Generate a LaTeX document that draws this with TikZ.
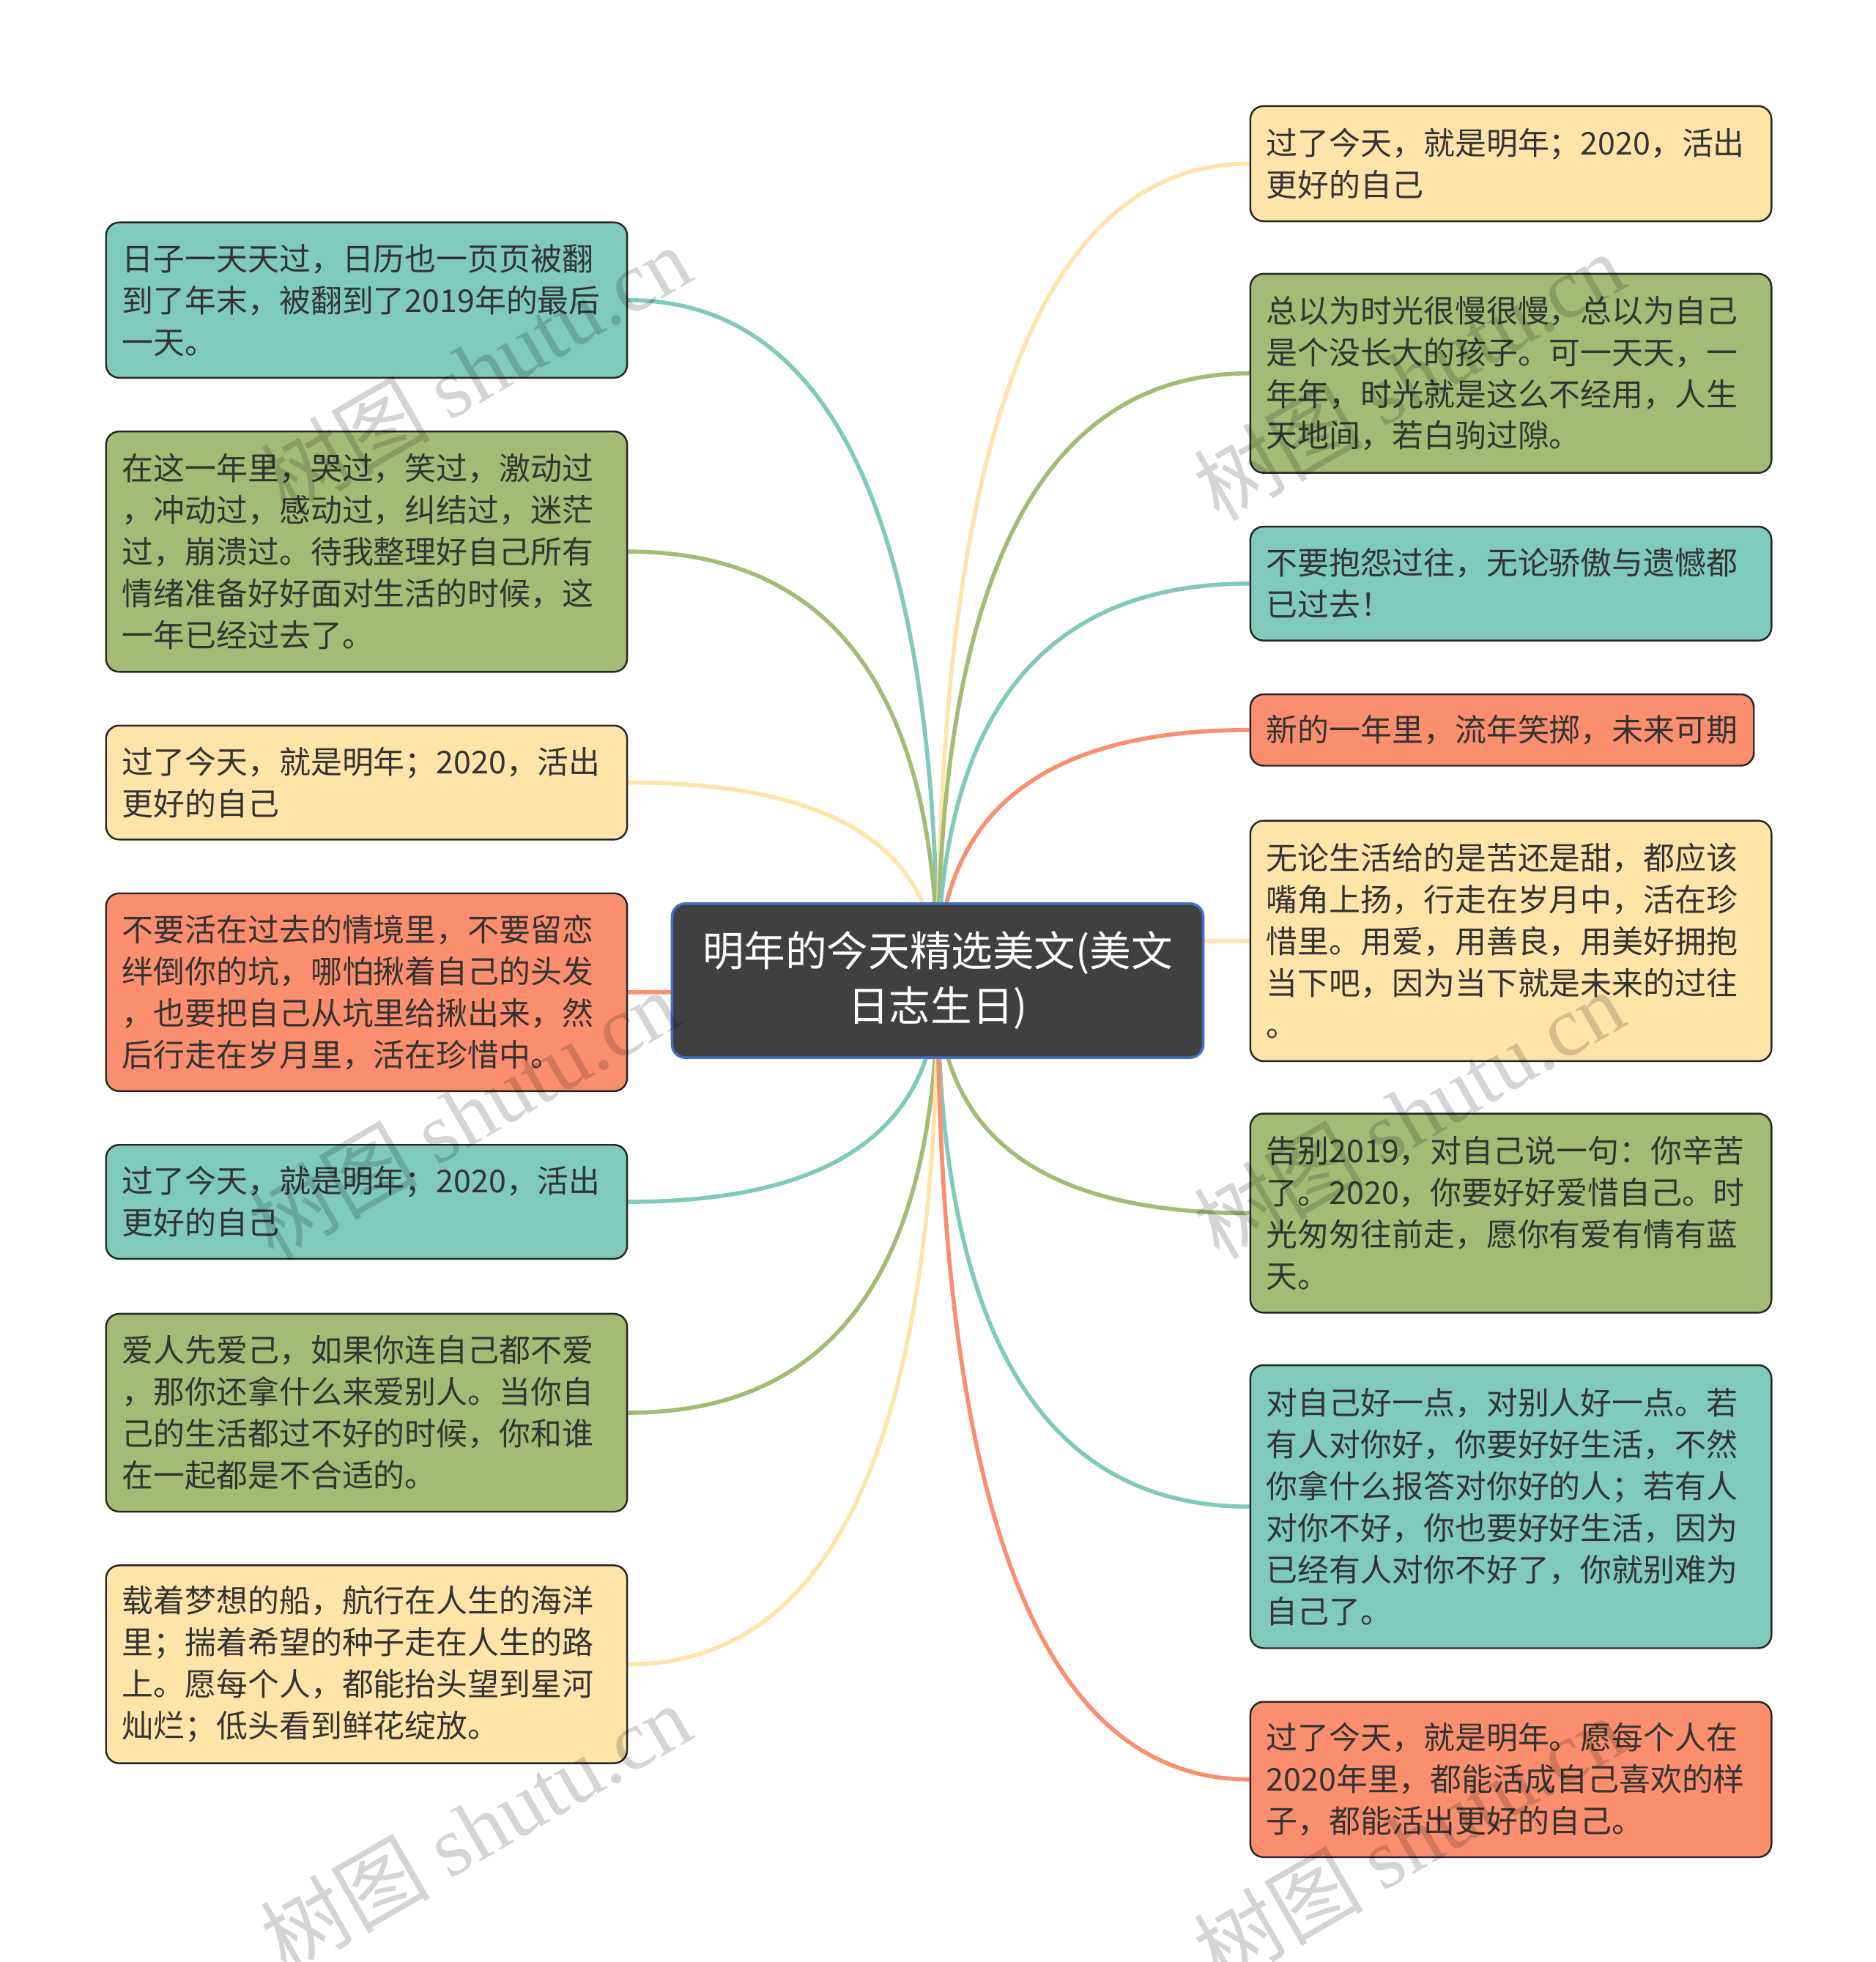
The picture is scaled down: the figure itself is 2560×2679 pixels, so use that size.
\documentclass[tikz,border=0pt]{standalone}
\usepackage{fontspec}
\setmainfont{Noto Sans CJK SC}
\newfontfamily\wmserif{Liberation Serif}
\usetikzlibrary{calc,backgrounds}
\definecolor{cteal}{HTML}{7FCABB}
\definecolor{cgreen}{HTML}{A4BB75}
\definecolor{cyellow}{HTML}{FFE4AA}
\definecolor{corange}{HTML}{FA8E6E}
\definecolor{ctxt}{HTML}{333333}
\definecolor{ccenter}{HTML}{404040}
\definecolor{cblue}{HTML}{3D6FC4}
\tikzset{
  leaf/.style={draw=black!85, line width=0.7pt, rounded corners=0.18cm,
    inner xsep=0.22cm, inner ysep=0pt, align=left, anchor=north west,
    text=ctxt, text width=6.67cm,
    font=\fontsize{12.2pt}{16.2pt}\selectfont},
  root/.style={draw=cblue, fill=ccenter, line width=1pt, rounded corners=0.18cm,
    align=center, text=white, minimum width=7.247cm, minimum height=2.102cm,
    inner sep=0pt, font=\fontsize{16.1pt}{21.3pt}\selectfont},
  link/.style={line width=1.6pt},
  wm/.style={text=black, opacity=0.17, rotate=30,
    font=\fontsize{33pt}{33pt}\selectfont}
}
\newcommand{\mmlink}[3]{%
  \coordinate (k-#2) at (cen.center |- #2.#3);
  \draw[link,#1] (cen.center) .. controls ($(cen.center)!0.6667!(k-#2)$) and ($(#2.#3)!0.6667!(k-#2)$) .. (#2.#3);
}
\begin{document}
\begin{tikzpicture}[x=0.01cm, y=-0.01cm]
\useasboundingbox (0,0) rectangle (2560,2679);

% root
\node[root] (cen) at (1280,1339) {明年的今天精选美文(美文\\日志生日)};

% left nodes
\node[leaf, fill=cteal, minimum height=2.12cm] (l1) at (143.5,302.5)
  {日子一天天过，日历也一页页被翻\\到了年末，被翻到了2019年的最后\\一天。};
\node[leaf, fill=cgreen, minimum height=3.28cm] (l2) at (143.5,587.9)
  {在这一年里，哭过，笑过，激动过\\，冲动过，感动过，纠结过，迷茫\\过，崩溃过。待我整理好自己所有\\情绪准备好好面对生活的时候，这\\一年已经过去了。};
\node[leaf, fill=cyellow, minimum height=1.555cm] (l3) at (143.5,989.5)
  {过了今天，就是明年；2020，活出\\更好的自己};
\node[leaf, fill=corange, minimum height=2.70cm] (l4) at (143.5,1218.5)
  {不要活在过去的情境里，不要留恋\\绊倒你的坑，哪怕揪着自己的头发\\，也要把自己从坑里给揪出来，然\\后行走在岁月里，活在珍惜中。};
\node[leaf, fill=cteal, minimum height=1.555cm] (l5) at (143.5,1562.0)
  {过了今天，就是明年；2020，活出\\更好的自己};
\node[leaf, fill=cgreen, minimum height=2.70cm] (l6) at (143.5,1792.7)
  {爱人先爱己，如果你连自己都不爱\\，那你还拿什么来爱别人。当你自\\己的生活都过不好的时候，你和谁\\在一起都是不合适的。};
\node[leaf, fill=cyellow, minimum height=2.70cm] (l7) at (143.5,2136.2)
  {载着梦想的船，航行在人生的海洋\\里；揣着希望的种子走在人生的路\\上。愿每个人，都能抬头望到星河\\灿烂；低头看到鲜花绽放。};

% right nodes
\node[leaf, fill=cyellow, minimum height=1.572cm] (r1) at (1705.6,143.6)
  {过了今天，就是明年；2020，活出\\更好的自己};
\node[leaf, fill=cgreen, minimum height=2.717cm] (r2) at (1705.6,372.6)
  {总以为时光很慢很慢，总以为自己\\是个没长大的孩子。可一天天，一\\年年，时光就是这么不经用，人生\\天地间，若白驹过隙。};
\node[leaf, fill=cteal, minimum height=1.555cm] (r3) at (1705.6,717.8)
  {不要抱怨过往，无论骄傲与遗憾都\\已过去！};
\node[leaf, fill=corange, minimum height=0.974cm, text width=6.43cm] (r4) at (1705.6,946.8)
  {新的一年里，流年笑掷，未来可期};
\node[leaf, fill=cyellow, minimum height=3.281cm] (r5) at (1705.6,1119.4)
  {无论生活给的是苦还是甜，都应该\\嘴角上扬，行走在岁月中，活在珍\\惜里。用爱，用善良，用美好拥抱\\当下吧，因为当下就是未来的过往\\。};
\node[leaf, fill=cgreen, minimum height=2.717cm] (r6) at (1705.6,1519.3)
  {告别2019，对自己说一句：你辛苦\\了。2020，你要好好爱惜自己。时\\光匆匆往前走，愿你有爱有情有蓝\\天。};
\node[leaf, fill=cteal, minimum height=3.862cm] (r7) at (1705.6,1862.8)
  {对自己好一点，对别人好一点。若\\有人对你好，你要好好生活，不然\\你拿什么报答对你好的人；若有人\\对你不好，你也要好好生活，因为\\已经有人对你不好了，你就别难为\\自己了。};
\node[leaf, fill=corange, minimum height=2.119cm] (r8) at (1705.6,2322.5)
  {过了今天，就是明年。愿每个人在\\2020年里，都能活成自己喜欢的样\\子，都能活出更好的自己。};

\begin{pgfonlayer}{background}
\fill[white] (0,0) rectangle (2560,2679);
\mmlink{cteal}{l1}{east}
\mmlink{cgreen}{l2}{east}
\mmlink{cyellow}{l3}{east}
\mmlink{corange}{l4}{east}
\mmlink{cteal}{l5}{east}
\mmlink{cgreen}{l6}{east}
\mmlink{cyellow}{l7}{east}
\mmlink{cyellow}{r1}{west}
\mmlink{cgreen}{r2}{west}
\mmlink{cteal}{r3}{west}
\mmlink{corange}{r4}{west}
\mmlink{cyellow}{r5}{west}
\mmlink{cgreen}{r6}{west}
\mmlink{cteal}{r7}{west}
\mmlink{corange}{r8}{west}
\end{pgfonlayer}

% watermarks
\node[wm] (w1) at (649,504) {树图 {\wmserif shutu.cn}};
\node[wm] (w2) at (632,1521) {树图 {\wmserif shutu.cn}};
\node[wm] (w3) at (649,2495) {树图 {\wmserif shutu.cn}};
\node[wm] (w4) at (1923,513) {树图 {\wmserif shutu.cn}};
\node[wm] (w5) at (1923,1521) {树图 {\wmserif shutu.cn}};
\node[wm] (w6) at (1923,2512) {树图 {\wmserif shutu.cn}};
\end{tikzpicture}
\end{document}
